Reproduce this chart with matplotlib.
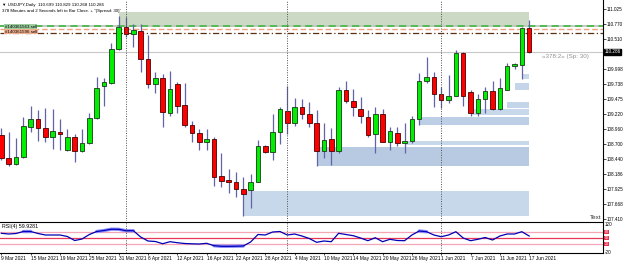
import numpy as np
import pandas as pd
import matplotlib
matplotlib.use("Agg")
import matplotlib.pyplot as plt
from matplotlib.transforms import blended_transform_factory

plt.rcParams["font.family"] = ["Liberation Sans", "DejaVu Sans"]

# daily bars, 9 Mar 2021 .. 17 Jun 2021
dates = pd.bdate_range("2021-03-09", "2021-06-17")

opens = [108.856, 108.461, 108.357, 108.477, 108.994, 109.132, 108.977, 108.822, 108.908, 108.598,
         108.822, 108.581, 108.719, 109.149, 109.700, 109.751, 110.337, 110.715, 110.595, 110.646,
         110.164, 109.734, 109.837, 109.235, 109.734, 109.373, 109.028, 108.891, 108.736, 108.787,
         108.151, 108.082, 108.047, 107.927, 107.910, 108.047, 108.667, 108.564, 108.908, 109.269,
         109.063, 109.338, 109.218, 109.063, 108.581, 108.787, 108.581, 109.631, 109.442, 109.304,
         109.166, 108.874, 109.218, 108.736, 108.891, 108.719, 108.753, 109.132, 109.786, 109.855,
         109.562, 109.459, 109.528, 110.268, 109.596, 109.235, 109.476, 109.614, 109.304, 109.631,
         110.044, 110.061, 110.699]
highs = [108.977, 108.908, 108.805, 109.166, 109.356, 109.287, 109.321, 109.304, 109.132, 108.960,
         108.874, 108.960, 109.235, 109.855, 109.837, 110.440, 110.905, 110.887, 110.767, 110.767,
         110.578, 109.941, 109.906, 109.958, 109.769, 109.751, 109.097, 108.960, 108.960, 108.822,
         108.546, 108.271, 108.220, 108.133, 108.185, 108.770, 108.684, 109.218, 109.338, 109.700,
         109.493, 109.476, 109.424, 109.287, 109.063, 108.977, 109.683, 109.786, 109.648, 109.510,
         109.287, 109.338, 109.304, 108.994, 108.994, 109.063, 109.183, 109.924, 110.199, 109.941,
         109.683, 109.889, 110.319, 110.286, 109.631, 109.562, 109.683, 109.786, 109.837, 110.096,
         110.096, 110.715, 110.829]
lows = [108.426, 108.323, 108.340, 108.461, 108.908, 108.753, 108.736, 108.615, 108.598, 108.581,
        108.392, 108.564, 108.701, 109.132, 109.356, 109.734, 110.319, 110.543, 110.371, 109.941,
        109.665, 109.579, 108.994, 109.183, 109.235, 108.994, 108.736, 108.598, 108.598, 107.979,
        107.961, 107.858, 107.789, 107.462, 107.600, 108.047, 108.546, 108.426, 108.701, 108.874,
        109.011, 109.132, 108.994, 108.323, 108.461, 108.340, 108.546, 109.407, 109.183, 109.063,
        108.822, 108.546, 108.736, 108.598, 108.667, 108.546, 108.719, 109.028, 109.751, 109.338,
        109.321, 109.407, 109.528, 109.356, 109.183, 109.183, 109.235, 109.287, 109.287, 109.631,
        109.992, 109.820, 110.268]
closes = [108.461, 108.357, 108.477, 109.011, 109.132, 108.977, 108.822, 108.925, 108.874, 108.822,
          108.581, 108.719, 109.149, 109.665, 109.769, 110.337, 110.715, 110.595, 110.664, 110.164,
          109.734, 109.837, 109.252, 109.648, 109.356, 109.028, 108.891, 108.736, 108.787, 108.133,
          108.065, 108.047, 107.927, 107.841, 108.047, 108.667, 108.564, 108.908, 109.304, 109.063,
          109.338, 109.218, 109.063, 108.581, 108.770, 108.581, 109.631, 109.442, 109.338, 109.183,
          108.856, 109.218, 108.736, 108.925, 108.719, 108.753, 109.132, 109.786, 109.855, 109.562,
          109.459, 109.528, 110.268, 109.528, 109.235, 109.476, 109.614, 109.304, 109.665, 110.044,
          110.078, 110.699, 110.286]

rsi = [73.5, 70, 72.5, 82.5, 82.5, 72.5, 65, 65, 65, 57.5,
       37.5, 45, 67.5, 82.5, 87.5, 94, 93.5, 86.5, 86.5, 55,
       35, 32.5, 21.5, 31.5, 26.5, 22.5, 21, 20, 23.5, 11.5,
       8.5, 8.5, 9, 10, 30, 67.5, 65, 80, 82.5, 65,
       70, 60, 47.5, 28.5, 35, 31.5, 73.5, 67.5, 61.5, 50,
       36.5, 51.5, 31.5, 43.5, 37.5, 36.5, 65, 85, 81.5, 65,
       56.5, 65, 81.5, 50, 36.5, 43.5, 52.5, 40, 60, 70,
       70, 81.5, 59.9281]
rsi_levels = [80, 50, 20]

# demand zones (start bar, top, bottom), all running to the last bar
zone_start = [33, 43, 55, 57, 64, 69, 70, 71]
zone_top = [107.893, 108.650, 108.753, 109.166, 109.304, 109.424, 109.751, 109.906]
zone_bottom = [107.462, 108.323, 108.684, 109.028, 109.200, 109.321, 109.631, 109.820]
supply_start, supply_top, supply_bottom = 16, 110.978, 110.715

order_levels = [110.724, 110.686, 110.620]
bid = 110.286
price_ticks = [111.025, 110.770, 110.510, 109.998, 109.738, 109.475, 109.220,
               108.960, 108.700, 108.440, 108.186, 107.925, 107.668, 107.410]

o, h, l, c = map(np.array, (opens, highs, lows, closes))
x = np.arange(len(dates))
last = len(dates) - 1

fig = plt.figure(figsize=(6.25, 2.63), dpi=100)
ax = fig.add_axes([0, 0.1597, 0.9648, 0.8403])
ax2 = fig.add_axes([0, 0.0380, 0.9648, 0.1179], sharex=ax)

# zones
ax.fill_between([supply_start, last], supply_bottom, supply_top, color="#cbd9c5", lw=0, zorder=1)
zone_cols = ["#c8d8eb", "#b7cae2", "#c8d8eb", "#bdcfe6", "#c8d8eb", "#c4d5ea", "#c4d5ea", "#c8d8eb"]
for s, t, b, col in zip(zone_start, zone_top, zone_bottom, zone_cols):
    ax.fill_between([s, last], b, t, color=col, lw=0, zorder=1)

# bid line and order lines
ax.axhline(bid, color="#c8c8c8", lw=0.8, zorder=0.5)
ax.axhline(order_levels[0], color="#c0c8c0", lw=1.3, zorder=2)
ax.axhline(order_levels[0], color="#4cb84c", lw=1.3, ls=(0, (4, 2.5)), zorder=2.1)
ax.axhline(order_levels[1], color="#f2a07c", lw=1.0, ls=(0, (4, 2)), zorder=2)
ax.axhline(order_levels[2], color="#5a3010", lw=0.9, ls=(0, (5, 2, 1, 2)), zorder=2)

# candles
up = c >= o
ax.vlines(x, l, h, color="#6262a8", lw=0.9, zorder=3)
body_lo = np.minimum(o, c)
body_h = np.maximum(np.abs(c - o), 0.012)
ax.bar(x[up], body_h[up], bottom=body_lo[up], width=0.62, color="#00ee00",
       edgecolor="#1a3a1a", lw=0.6, zorder=4)
ax.bar(x[~up], body_h[~up], bottom=body_lo[~up], width=0.62, color="#ff0000",
       edgecolor="#4a0000", lw=0.6, zorder=4)

# month separators
months = dates.month
seps = [i for i in range(1, len(dates)) if months[i] != months[i - 1]]
for s in seps:
    ax.axvline(s, color="#505050", lw=0.7, ls=(0, (1, 1.5)), zorder=5)
    ax2.axvline(s, color="#505050", lw=0.7, ls=(0, (1, 1.5)), zorder=5)

ax.set_xlim(-0.19, 82.07)
ax.set_ylim(107.376, 111.180)
ax.yaxis.tick_right()
ax.set_yticks(price_ticks)
ax.set_yticklabels([f"{p:.3f}" for p in price_ticks])
ax.tick_params(axis="y", labelsize=3.3, length=2, pad=0.8, width=0.5)
ax.tick_params(axis="x", bottom=False, labelbottom=False)
for side in ["left", "top", "bottom"]:
    ax.spines[side].set_visible(False)
ax.spines["right"].set_linewidth(0.8)

bt = blended_transform_factory(ax.transAxes, ax.transData)
ax.text(1.002, bid, f"{bid:.3f}", transform=bt, fontsize=3.3, color="white", va="center",
        ha="left", bbox=dict(facecolor="black", edgecolor="black", pad=0.5), zorder=10)
ax.text(0.977, bid - 0.08, "«378:2» (Sp: 30)", transform=bt, fontsize=4.5, color="#909090",
        ha="right", va="center")
ax.text(0.998, 0.018, "Text", transform=ax.transAxes, fontsize=4.5, color="#303030",
        ha="right", va="center")
ax.text(0.004, 0.978, "▼ USDJPY,Daily  110.699 110.829 110.268 110.286", transform=ax.transAxes,
        fontsize=3.2, color="black", va="center")
ax.text(0.004, 0.952, '378 Minutes and 2 Seconds left to Bar Close. + "(Spread: 30)"',
        transform=ax.transAxes, fontsize=3.2, color="black", va="center")
ax.text(0.008, order_levels[0] - 0.005, "#140361563 sell", transform=bt, fontsize=3.2,
        color="black", va="center", bbox=dict(facecolor="#9ccc9c", edgecolor="none", pad=0.3), zorder=6)
ax.text(0.008, order_levels[1] - 0.055, "#140361596 sell", transform=bt, fontsize=3.2,
        color="black", va="center", bbox=dict(facecolor="#f0b090", edgecolor="none", pad=0.3), zorder=6)

# RSI pane
for lv, col in zip(rsi_levels, ["#f4a6b6", "#e8385a", "#f4a6b6"]):
    ax2.axhline(lv, color=col, lw=0.9, zorder=1)
r = np.array(rsi)
hi = np.ma.masked_where((r <= 80) & (r >= 20), r)
ax2.plot(x, hi, color="#8c8cff", lw=2.4, zorder=2, solid_capstyle="round")
ax2.plot(x, r, color="#0000b4", lw=0.9, zorder=3)
ax2.text(0.004, 0.84, "RSI(4) 59.9281", transform=ax2.transAxes, fontsize=3.8, va="center")
bt2 = blended_transform_factory(ax2.transAxes, ax2.transData)
for lv in rsi_levels:
    ax2.text(1.003, lv, f"{lv}", transform=bt2, fontsize=2.6, color="white", va="center",
             bbox=dict(facecolor="#e83050", edgecolor="none", pad=0.3))
ax2.set_ylim(-25, 130)
ax2.yaxis.tick_right()
ax2.set_yticks([120, -20])
ax2.set_yticklabels(["120", "-20"])
ax2.tick_params(axis="y", labelsize=3.3, length=0, pad=1)
for sp in ax2.spines.values():
    sp.set_linewidth(0.8)
ax2.spines["left"].set_visible(False)

tick_idx = list(range(0, len(dates), 4))
ax2.set_xticks(tick_idx)
ax2.set_xticklabels([f"{dates[i].day} {dates[i]:%b %Y}" for i in tick_idx], ha="left")
ax2.tick_params(axis="x", labelsize=3.5, length=1.5, pad=0.8, width=0.5)

fig.savefig("out.png", dpi=100)
